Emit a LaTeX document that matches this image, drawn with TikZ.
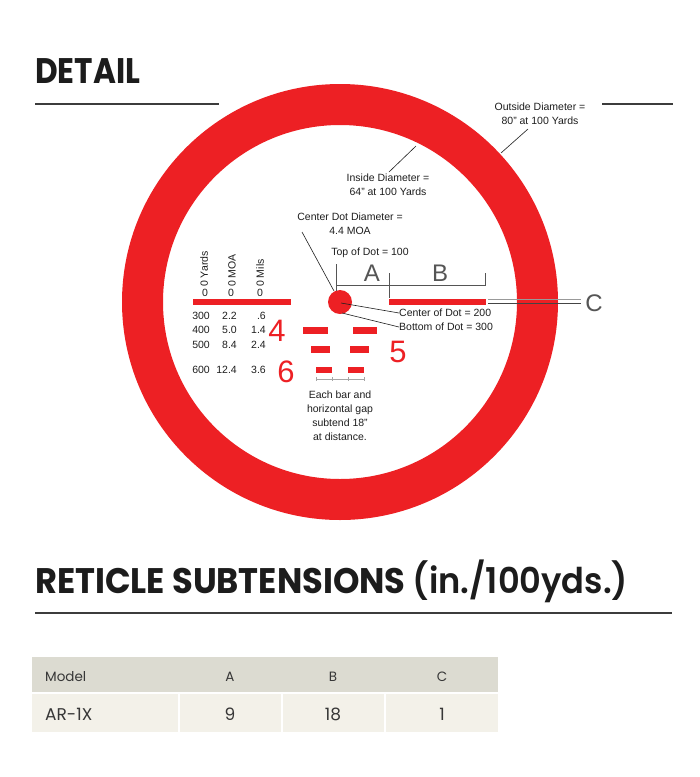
\documentclass[tikz,border=0pt]{standalone}
\usepackage{fontspec}
\usepackage{graphicx}
\setmainfont{Liberation Sans}
\newfontfamily\headfont{Poppins}
\newfontfamily\semifont{Poppins SemiBold}
\newfontfamily\tabfont{Poppins}
\definecolor{rred}{RGB}{237,32,36}
\definecolor{txt}{RGB}{30,30,30}
\definecolor{head}{RGB}{28,28,28}
\definecolor{rulec}{RGB}{60,60,60}
\definecolor{dimc}{RGB}{85,85,85}
\definecolor{hdrow}{RGB}{220,219,209}
\definecolor{dtrow}{RGB}{243,241,233}
\definecolor{tabtxt}{RGB}{55,55,55}
\tikzset{
  lab/.style={inner sep=0pt, text=txt, font=\fontsize{10.5}{14}\selectfont},
  leader/.style={draw=txt, line width=0.6pt},
  dimline/.style={draw=dimc, line width=0.9pt},
  bignum/.style={inner sep=0pt, text=rred, font=\fontsize{31}{31}\selectfont},
  letterlab/.style={inner sep=0pt, text=dimc, font=\fontsize{24}{24}\selectfont},
  headrule/.style={draw=rulec, line width=2pt},
  tabhead/.style={inner sep=0pt, text=tabtxt, font=\tabfont\fontsize{13.5}{15}\selectfont},
  tabdata/.style={inner sep=0pt, text=tabtxt, font=\tabfont\fontsize{17}{19}\selectfont},
}
\begin{document}
\begin{tikzpicture}[x=1pt,y=-1pt]
\useasboundingbox (0,0) rectangle (700,777);
\fill[white] (0,0) rectangle (700,777);

% headings
\node[anchor=base west, inner sep=0pt, text=head] (det) at (35,83)
  {\resizebox{105pt}{\height}{\headfont\bfseries\fontsize{35.5}{40}\selectfont DETAIL}};
\coordinate (r1a) at (35,104); \coordinate (r1b) at (219,104);
\draw[headrule] (r1a) -- (r1b);
\coordinate (r2a) at (602,104); \coordinate (r2b) at (673,104);
\draw[headrule] (r2a) -- (r2b);

% ring
\fill[rred, even odd rule] (340,302) circle[radius=218] circle[radius=177];

% center dot
\node[circle, fill=rred, minimum size=24pt, inner sep=0pt] (dot) at (340,302) {};

% horizontal bars
\fill[rred] (193,299) rectangle (291,305);
\fill[rred] (389,299) rectangle (486,305);
\fill[rred] (303,327) rectangle (328,334);
\fill[rred] (353,327) rectangle (377,334);
\fill[rred] (311,346) rectangle (330,353);
\fill[rred] (350,346) rectangle (369,353);
\fill[rred] (316,367) rectangle (332,373);
\fill[rred] (348,367) rectangle (364,373);

% small dimension under bottom bars
\coordinate (g1) at (316,379); \coordinate (g4) at (364,379);
\draw[draw=gray!70, line width=0.6pt] (g1) -- (g4);
\foreach \xx in {316,332,348,364} \draw[draw=gray!70, line width=0.6pt] (\xx,377) -- (\xx,381);

% numbers 4 5 6
\node[bignum] (n4) at (277,331) {4};
\node[bignum] (n5) at (398,352) {5};
\node[bignum] (n6) at (286,372) {6};

% left table rotated headers
\node[lab, rotate=90, anchor=west] (hy) at (204,287) {0 Yards};
\node[lab, rotate=90, anchor=west] (hm) at (232,287) {0 MOA};
\node[lab, rotate=90, anchor=west] (hl) at (260,287) {0 Mils};
\node[lab, anchor=base] (z1) at (205,296) {0};
\node[lab, anchor=base] (z2) at (231,296) {0};
\node[lab, anchor=base] (z3) at (260,296) {0};

\foreach \yy/\a/\b/\c in {319/300/2.2/.6, 333/400/5.0/1.4, 348/500/8.4/2.4, 373/600/12.4/3.6}{
  \node[lab, anchor=base east] at (210,\yy) {\a};
  \node[lab, anchor=base east] at (237,\yy) {\b};
  \node[lab, anchor=base east] at (266,\yy) {\c};
}

% center dot diameter label
\node[lab, align=center] (cdd) at (350,224) {Center Dot Diameter =\\4.4 MOA};
\coordinate (cdda) at (302,232); \coordinate (cddb) at (334,291);
\draw[leader] (cdda) -- (cddb);

\node[lab] (tod) at (370,253) {Top of Dot = 100};

% A / B dimensions
\coordinate (ta1) at (336,264); \coordinate (ta2) at (336,291);
\draw[dimline] (ta1) -- (ta2);
\coordinate (h1) at (336,285); \coordinate (h2) at (485,285);
\draw[dimline] (h1) -- (h2);
\coordinate (tb1) at (389,273); \coordinate (tb2) at (389,298);
\draw[dimline] (tb1) -- (tb2);
\coordinate (tc1) at (485,273); \coordinate (tc2) at (485,286);
\draw[dimline] (tc1) -- (tc2);
\node[letterlab] (la) at (372,273) {A};
\node[letterlab] (lb) at (440,273) {B};

% C
\coordinate (c1a) at (488,299.5); \coordinate (c1b) at (581,299.5);
\coordinate (c2a) at (488,303.8); \coordinate (c2b) at (581,303.8);
\draw[draw=gray!80, line width=0.9pt] (c1a) -- (c1b);
\draw[draw=dimc!80!black, line width=1pt] (c2a) -- (c2b);
\node[letterlab] (lc) at (594,303) {C};

% center / bottom of dot
\node[lab, anchor=west] (cod) at (399,313) {Center of Dot = 200};
\node[lab, anchor=west] (bod) at (399,327) {Bottom of Dot = 300};
\coordinate (cd1) at (341,303);
\coordinate (bd1) at (342,313);
\draw[leader] (cd1) -- (cod.west);
\draw[leader] (bd1) -- (bod.west);

% inside / outside diameter
\node[lab, align=center] (ind) at (388,185) {Inside Diameter =\\64" at 100 Yards};
\coordinate (ia) at (416,146); \coordinate (ib) at (389,172);
\draw[leader] (ia) -- (ib);
\node[lab, align=center] (outd) at (540,114) {Outside Diameter =\\80" at 100 Yards};
\coordinate (oa) at (528,129); \coordinate (ob) at (501,153);
\draw[leader] (oa) -- (ob);

% each bar text
\node[lab, align=center] (each) at (340,416) {Each bar and\\horizontal gap\\subtend 18"\\at distance.};

% second heading
\node[anchor=base west, inner sep=0pt, text=head] (ret) at (35,593)
  {\resizebox{593pt}{\height}{\fontsize{35.5}{40}\selectfont{\headfont\bfseries RETICLE SUBTENSIONS }{\semifont (in./100yds.)}}};
\coordinate (r3a) at (35,613); \coordinate (r3b) at (672,613);
\draw[headrule] (r3a) -- (r3b);

% table
\fill[hdrow] (32,657) rectangle (498,692);
\fill[dtrow] (32,694) rectangle (498,732);
\foreach \xx in {179,282,385} \fill[white] (\xx-1,694) rectangle (\xx+1,732);
\node[tabhead, anchor=base west] (tm) at (45,681) {Model};
\node[tabhead, anchor=base] (ta) at (230,681) {A};
\node[tabhead, anchor=base] (tb) at (333,681) {B};
\node[tabhead, anchor=base] (tc) at (442,681) {C};
\node[tabdata, anchor=base west] (dm) at (45,720) {AR-1X};
\node[tabdata, anchor=base] (da) at (230,720) {9};
\node[tabdata, anchor=base] (db) at (333,720) {18};
\node[tabdata, anchor=base] (dc) at (442,720) {1};
\end{tikzpicture}
\end{document}
